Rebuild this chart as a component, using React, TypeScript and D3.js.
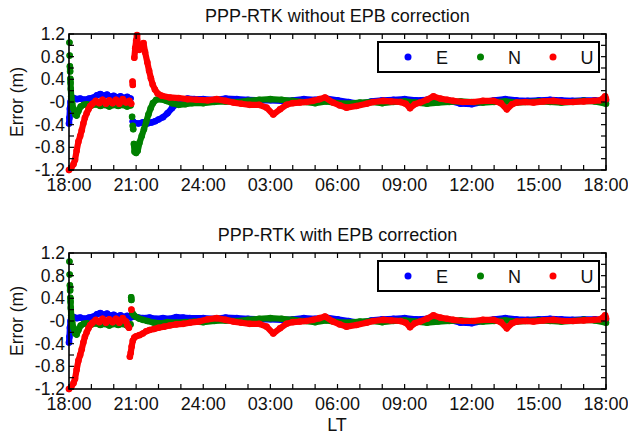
import React from 'react';
import * as d3 from 'd3';

// [hours since 18:00 LT, error in m]; null breaks the trace
type Pt = [number, number | null];

const xTickLabels = ['18:00', '21:00', '24:00', '03:00', '06:00', '09:00', '12:00', '15:00', '18:00'];
const yTickValues = [1.2, 0.8, 0.4, 0, -0.4, -0.8, -1.2];
const yTickLabels = ['1.2', '0.8', '0.4', '-0', '-0.4', '-0.8', '-1.2'];
const seriesNames = ['E', 'N', 'U'];
const seriesColors = ['#0000ff', '#008000', '#ff0000'];
const panelTitles = ['PPP-RTK without EPB correction', 'PPP-RTK with EPB correction'];

// East
const eHead: Pt[] = [[0, -0.38], [0.02, -0.28], [0.04, -0.12], [0.07, 0.0], [0.1, 0.06], [0.2, 0.07], [0.35, 0.05],
  [0.5, 0.06], [0.7, 0.04], [0.9, 0.06], [1.1, 0.08], [1.25, 0.12], [1.4, 0.14], [1.55, 0.11], [1.7, 0.13],
  [1.85, 0.09], [2.0, 0.11], [2.15, 0.08], [2.3, 0.1], [2.45, 0.07], [2.6, 0.09], [2.75, 0.06]];
const eTopMid: Pt[] = [[2.8, null], [2.85, -0.34], [2.95, -0.37], [3.1, -0.38], [3.3, -0.36], [3.5, -0.38],
  [3.7, -0.36], [3.85, -0.34], [4.0, -0.31], [4.2, -0.27], [4.4, -0.2], [4.6, -0.11], [4.8, -0.03], [5.0, 0.03],
  [5.3, 0.06], [5.6, 0.05]];
const eBotMid: Pt[] = [[2.8, 0.07], [2.95, 0.08], [3.1, 0.06], [3.3, 0.05], [3.6, 0.06], [3.9, 0.04], [4.2, 0.05],
  [4.5, 0.04], [4.8, 0.07], [5.1, 0.06], [5.4, 0.05]];
const eTail: Pt[] = [[6.0, 0.05], [6.5, 0.04], [7.0, 0.06], [7.5, 0.05], [8.0, 0.04], [8.5, 0.03], [9.0, 0.03],
  [9.5, 0.02], [10.0, 0.03], [10.5, 0.05], [11.0, 0.04], [11.5, 0.06], [12.0, 0.03], [12.5, 0.0], [13.0, -0.03],
  [13.5, 0.01], [14.0, 0.03], [14.5, 0.04], [15.0, 0.05], [15.5, 0.03], [16.0, 0.04], [16.5, 0.05], [17.0, 0.02],
  [17.5, -0.03], [18.0, -0.04], [18.5, 0.0], [19.0, 0.03], [19.5, 0.05], [20.0, 0.03], [20.5, 0.02], [21.0, 0.03],
  [21.5, 0.04], [22.0, 0.03], [22.5, 0.02], [23.0, 0.03], [23.5, 0.03], [24.0, 0.02]];

// North
const nHead: Pt[] = [[0.02, 1.05], [0.025, null], [0.03, 0.82], [0.035, null], [0.04, 0.63], [0.05, 0.54],
  [0.055, null], [0.06, 0.41], [0.07, 0.34], [0.08, 0.23], [0.1, 0.1], [0.14, -0.02], [0.2, -0.12], [0.28, -0.22],
  [0.34, -0.24], [0.42, -0.16], [0.52, -0.08], [0.65, -0.05], [0.8, -0.04], [1.0, -0.06], [1.2, -0.04],
  [1.4, -0.07], [1.6, -0.05], [1.8, -0.08], [2.0, -0.05], [2.2, -0.07], [2.4, -0.05], [2.6, -0.08], [2.75, -0.06]];
const nTopMid: Pt[] = [[2.78, null], [2.82, -0.26], [2.83, null], [2.85, -0.42], [2.87, -0.48], [2.88, null],
  [2.9, -0.74], [2.93, -0.88], [3.0, -0.9], [3.07, -0.86], [3.15, -0.72], [3.25, -0.6], [3.35, -0.48],
  [3.45, -0.35], [3.55, -0.22], [3.65, -0.11], [3.75, -0.02], [3.9, 0.04], [4.1, 0.05], [4.35, 0.02],
  [4.6, -0.02], [4.9, -0.05], [5.2, -0.04], [5.5, -0.02]];
const nBotMid: Pt[] = [[2.77, null], [2.78, 0.42], [2.79, 0.37], [2.8, null], [2.83, 0.14], [2.9, 0.1],
  [3.0, 0.07], [3.15, 0.04], [3.3, 0.02], [3.5, 0.0], [3.8, -0.03], [4.1, -0.04], [4.4, -0.02], [4.8, -0.03],
  [5.2, -0.02], [5.6, -0.01]];
const nTail: Pt[] = [[6.0, -0.02], [6.5, 0.0], [7.0, 0.01], [7.5, 0.0], [8.0, 0.02], [8.5, 0.04], [9.0, 0.05],
  [9.5, 0.04], [10.0, 0.02], [10.5, 0.0], [11.0, -0.02], [11.5, 0.01], [12.0, -0.02], [12.5, -0.03], [13.0, -0.01],
  [13.5, 0.0], [14.0, -0.02], [14.5, 0.0], [15.0, 0.01], [15.5, -0.01], [16.0, -0.03], [16.5, -0.01], [17.0, 0.0],
  [17.5, 0.01], [18.0, 0.0], [18.5, -0.01], [19.0, 0.0], [19.5, 0.01], [20.0, -0.01], [20.5, 0.0], [21.0, 0.01],
  [21.5, 0.0], [22.0, -0.01], [22.5, 0.0], [23.0, 0.02], [23.5, 0.01], [24.0, -0.03]];

// Up
const uHead: Pt[] = [[0, -1.2], [0.1, -1.16], [0.2, -1.1], [0.27, -1.02], [0.34, -0.86], [0.42, -0.7],
  [0.5, -0.6], [0.57, -0.5], [0.64, -0.38], [0.71, -0.28], [0.79, -0.2], [0.87, -0.13], [0.95, -0.07],
  [1.05, -0.03], [1.2, 0.02], [1.35, -0.02], [1.5, 0.04], [1.65, -0.03], [1.8, 0.03], [1.95, -0.02], [2.1, 0.04],
  [2.25, -0.03], [2.4, 0.05], [2.55, -0.01]];
const uTopMid: Pt[] = [[2.7, 0.02], [2.78, -0.03], [2.8, null], [2.84, 0.36], [2.85, 0.3], [2.86, null],
  [2.92, 0.78], [2.96, 0.95], [3.0, 1.08], [3.04, 1.18], [3.08, 1.02], [3.14, 0.92], [3.2, 1.0], [3.27, 0.95],
  [3.33, 1.04], [3.4, 0.88], [3.5, 0.7], [3.58, 0.55], [3.66, 0.42], [3.74, 0.31], [3.84, 0.22], [3.96, 0.15],
  [4.15, 0.11], [4.5, 0.08], [4.9, 0.07], [5.3, 0.05], [5.7, 0.04]];
const uBotMid: Pt[] = [[2.62, -0.08], [2.68, -0.12], [2.7, null], [2.79, 0.2], [2.795, null], [2.72, -0.63],
  [2.76, -0.56], [2.8, -0.45], [2.85, -0.35], [2.92, -0.29], [3.0, -0.27], [3.15, -0.25], [3.3, -0.22],
  [3.45, -0.18], [3.6, -0.16], [3.8, -0.14], [4.0, -0.12], [4.25, -0.1], [4.5, -0.08], [4.8, -0.06],
  [5.1, -0.05], [5.4, -0.03], [5.8, -0.01]];
const uTail: Pt[] = [[6.2, 0.03], [6.6, 0.05], [7.0, 0.02], [7.34, -0.01], [7.7, -0.03], [8.08, -0.05],
  [8.5, -0.05], [8.83, -0.1], [9.13, -0.22], [9.43, -0.13], [9.72, -0.05], [10.0, -0.02], [10.32, -0.01],
  [10.6, 0.0], [10.91, 0.02], [11.2, 0.05], [11.44, 0.08], [11.8, -0.01], [12.1, -0.06], [12.4, -0.1],
  [12.85, -0.07], [13.3, -0.03], [13.6, 0.0], [14.04, 0.02], [14.4, 0.01], [14.8, 0.0], [15.05, -0.03],
  [15.24, -0.11], [15.45, -0.04], [15.69, -0.01], [16.0, 0.04], [16.29, 0.1], [16.59, 0.06], [16.9, 0.04],
  [17.18, 0.02], [17.6, 0.0], [18.08, 0.0], [18.5, 0.02], [18.97, 0.02], [19.3, -0.02], [19.57, -0.13],
  [19.8, -0.04], [20.0, -0.01], [20.4, 0.0], [20.76, -0.01], [21.2, 0.01], [21.65, 0.02], [22.1, 0.0],
  [22.55, 0.0], [23.0, 0.01], [23.44, 0.02], [23.74, 0.03], [23.96, 0.1], [24.0, 0.05]];

const topSeries: Pt[][] = [[...eHead, ...eTopMid, ...eTail], [...nHead, ...nTopMid, ...nTail], [...uHead, ...uTopMid, ...uTail]];
const botSeries: Pt[][] = [[...eHead, ...eBotMid, ...eTail], [...nHead, ...nBotMid, ...nTail], [...uHead, ...uBotMid, ...uTail]];

const FONT = '"Liberation Sans", Arial, sans-serif';
const left = 69, right = 606, ph = 136;

function Panel({ top, title, series }: { top: number; title: string; series: Pt[][] }) {
  const x = d3.scaleLinear().domain([0, 24]).range([left, right]);
  const y = d3.scaleLinear().domain([-1.2, 1.2]).range([top + ph, top]);
  const line = d3.line<Pt>()
    .defined(d => d[1] !== null)
    .x(d => x(d[0]))
    .y(d => y(d[1] as number));
  const xt = x.ticks(24);
  const yt = y.ticks(12);
  const lx = 378, ly = top + 8;

  return (
    <g>
      <text x={(left + right) / 2} y={top - 12.5} textAnchor="middle" fontSize={18} fill="#111">{title}</text>
      {series.map((s, i) => (
        <g key={i}>
          <path d={line(s) || ''} fill="none" stroke={seriesColors[i]} strokeWidth={6.2}
            strokeLinejoin="round" strokeLinecap="round" />
          {s.filter(d => d[1] !== null).map((d, j) => (
            <circle key={j} cx={x(d[0])} cy={y(d[1] as number)} r={3.3} fill={seriesColors[i]} />
          ))}
        </g>
      ))}
      <rect x={left} y={top} width={right - left} height={ph} fill="none" stroke="#000" strokeWidth={1.6} />
      {xt.map(t => (
        <g key={'x' + t}>
          <line x1={x(t)} x2={x(t)} y1={top} y2={top + 5} stroke="#000" strokeWidth={1.2} />
          <line x1={x(t)} x2={x(t)} y1={top + ph} y2={top + ph - 5} stroke="#000" strokeWidth={1.2} />
          {t % 3 === 0 && (
            <text x={x(t)} y={top + ph + 20.5} textAnchor="middle" fontSize={18} fill="#111">{xTickLabels[t / 3]}</text>
          )}
        </g>
      ))}
      {yt.map(t => (
        <g key={'y' + t}>
          <line x1={left} x2={left + 5} y1={y(t)} y2={y(t)} stroke="#000" strokeWidth={1.2} />
          <line x1={right} x2={right - 5} y1={y(t)} y2={y(t)} stroke="#000" strokeWidth={1.2} />
        </g>
      ))}
      {yTickValues.map((t, i) => (
        <text key={'yl' + i} x={left - 4} y={y(t)} dy="0.34em" textAnchor="end" fontSize={17.5} fill="#111">{yTickLabels[i]}</text>
      ))}
      <text transform={`translate(23,${top + ph / 2}) rotate(-90)`} textAnchor="middle" fontSize={17.5} fill="#111">Error (m)</text>
      <rect x={lx} y={ly} width={221} height={30} fill="#fff" stroke="#000" strokeWidth={2} />
      {seriesNames.map((n, i) => (
        <g key={n}>
          <circle cx={lx + 30 + i * 72.5} cy={ly + 15} r={3.5} fill={seriesColors[i]} />
          <text x={lx + 64 + i * 72.5} y={ly + 21.5} textAnchor="middle" fontSize={18} fill="#111">{n}</text>
        </g>
      ))}
    </g>
  );
}

export default function App() {
  return (
    <svg width={628} height={435} style={{ position: 'absolute', left: 0, top: 0, background: '#fff' }}
      fontFamily={FONT}>
      <Panel top={34} title={panelTitles[0]} series={topSeries} />
      <Panel top={253} title={panelTitles[1]} series={botSeries} />
      <text x={337} y={430.5} textAnchor="middle" fontSize={18} fill="#111">LT</text>
    </svg>
  );
}
